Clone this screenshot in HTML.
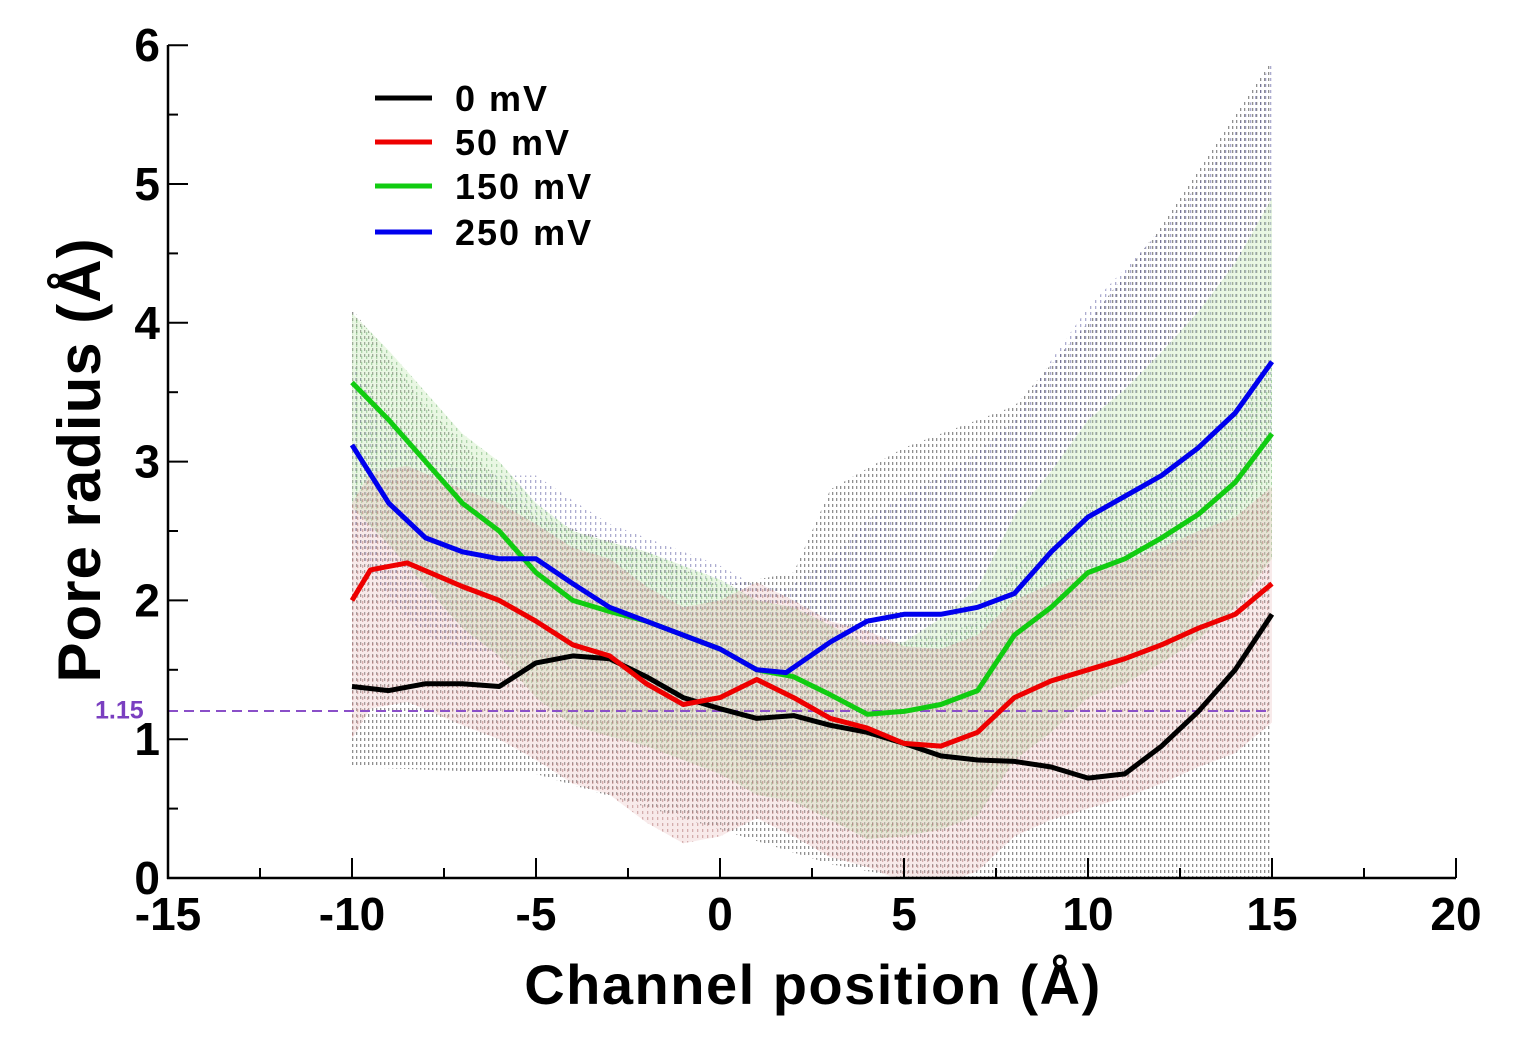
<!DOCTYPE html>
<html><head><meta charset="utf-8"><style>
html,body{margin:0;padding:0;background:#fff;}
svg{display:block;font-family:"Liberation Sans",Arial,sans-serif;}
</style></head><body>
<svg id="s" width="1516" height="1052" viewBox="0 0 1516 1052" xmlns="http://www.w3.org/2000/svg">
<defs>
<pattern id="pg" width="4" height="6" patternUnits="userSpaceOnUse"><rect x="0" y="0" width="1.3" height="3" fill="#444"/></pattern>
<pattern id="pb" width="5" height="6" patternUnits="userSpaceOnUse"><rect x="0" y="0" width="1.3" height="3" fill="#5a5aa0"/></pattern>
<pattern id="pr" width="5" height="6" patternUnits="userSpaceOnUse"><rect x="2" y="1" width="1.3" height="3" fill="#b07070"/></pattern>
<pattern id="pgr" width="5" height="6" patternUnits="userSpaceOnUse"><rect x="1" y="2" width="1.3" height="3" fill="#70b070"/></pattern>
</defs>
<g id="bands"></g>
<line x1="168" y1="711" x2="1272" y2="711" stroke="#8a4fc8" stroke-width="2" stroke-dasharray="10,6"/>
<text x="95" y="712" font-size="25" font-weight="bold" fill="#7a3fc0" dominant-baseline="middle">1.15</text>
<g id="curves"></g>
<g stroke="#000" stroke-width="2.5" fill="none">
<line x1="168" y1="45" x2="168" y2="879"/>
<line x1="167" y1="878" x2="1456" y2="878"/>
</g>
<g id="ticks" stroke="#000" stroke-width="2"></g>
<g font-size="46" font-weight="bold" fill="#000" id="labels"></g>
<g stroke-width="5" fill="none">
<line x1="375" y1="98" x2="432" y2="98" stroke="#000"/>
<line x1="375" y1="142" x2="432" y2="142" stroke="#e00"/>
<line x1="375" y1="186" x2="432" y2="186" stroke="#1c1"/>
<line x1="375" y1="232" x2="432" y2="232" stroke="#00e"/>
</g>
<g font-size="36" font-weight="bold" fill="#000" letter-spacing="2">
<text x="455" y="111">0 mV</text>
<text x="455" y="155">50 mV</text>
<text x="455" y="199">150 mV</text>
<text x="455" y="245">250 mV</text>
</g>
<text x="813" y="1004" font-size="56" font-weight="bold" text-anchor="middle" letter-spacing="1.5">Channel position (Å)</text>
<text transform="translate(100,460) rotate(-90)" font-size="60" font-weight="bold" text-anchor="middle" letter-spacing="1">Pore radius (Å)</text>
</svg>
<script>
const X=x=>720+x*36.8, Y=y=>878-y*138.8;
const ns="http://www.w3.org/2000/svg";
function el(p,t,a){const e=document.createElementNS(ns,t);for(const k in a)e.setAttribute(k,a[k]);document.getElementById(p).appendChild(e);return e;}
function interp(d,x){for(let i=0;i<d.length-1;i++){if(x>=d[i][0]&&x<=d[i+1][0]){const t=(x-d[i][0])/(d[i+1][0]-d[i][0]);return d[i][1]+t*(d[i+1][1]-d[i][1]);}}return d[d.length-1][1];}
function path(d){return d.map((p,i)=>(i?'L':'M')+X(p[0]).toFixed(1)+','+Y(p[1]).toFixed(1)).join('');}
function band(up,lo,fill,op){let pts=[];for(let x=-10;x<=15.001;x+=0.25)pts.push([x,interp(up,x)]);for(let x=15;x>=-10.001;x-=0.25)pts.push([x,Math.max(0,interp(lo,x))]);el('bands','path',{d:path(pts)+'Z',fill:fill,opacity:op});}
const black=[[-10,1.38],[-9,1.35],[-8,1.4],[-7,1.4],[-6,1.38],[-5,1.55],[-4,1.6],[-3,1.58],[-2,1.45],[-1,1.3],[0,1.22],[1,1.15],[2,1.17],[3,1.1],[4,1.05],[5,0.97],[6,0.88],[7,0.85],[8,0.84],[9,0.8],[10,0.72],[11,0.75],[12,0.95],[13,1.2],[14,1.5],[15,1.9]];
const red=[[-10,2.0],[-9.5,2.22],[-8.5,2.27],[-7,2.1],[-6,2.0],[-5,1.85],[-4,1.68],[-3,1.6],[-2,1.4],[-1,1.25],[0,1.3],[1,1.43],[2,1.3],[3,1.15],[4,1.08],[5,0.97],[6,0.95],[7,1.05],[8,1.3],[9,1.42],[10,1.5],[11,1.58],[12,1.68],[13,1.8],[14,1.9],[15,2.12]];
const green=[[-10,3.57],[-9,3.3],[-8,3.0],[-7,2.7],[-6,2.5],[-5,2.2],[-4,2.0],[-3,1.92],[-2,1.85],[-1,1.75],[0,1.65],[1,1.5],[2,1.45],[3,1.32],[4,1.18],[5,1.2],[6,1.25],[7,1.35],[8,1.75],[9,1.95],[10,2.2],[11,2.3],[12,2.45],[13,2.62],[14,2.85],[15,3.2]];
const blue=[[-10,3.12],[-9,2.7],[-8,2.45],[-7,2.35],[-6,2.3],[-5,2.3],[-4,2.12],[-3,1.95],[-2,1.85],[-1,1.75],[0,1.65],[1,1.5],[1.8,1.48],[3,1.7],[4,1.85],[5,1.9],[6,1.9],[7,1.95],[8,2.05],[9,2.35],[10,2.6],[11,2.75],[12,2.9],[13,3.1],[14,3.35],[15,3.72]];
const up=[[-10,4.1],[-8,3.4],[-5,2.6],[-2,2.35],[0,2.1],[2,2.2],[3,2.8],[5,3.1],[8,3.4],[10,4.0],[12,4.7],[14,5.5],[15,5.9]];
const lo=[[-10,0.8],[-5,0.75],[0,0.35],[3,0.1],[5,0],[15,0]];
band(up,lo,'url(#pg)',0.6);
band(blue.map(p=>[p[0],p[1]+0.6+Math.max(0,p[0]-3)*0.13]),blue.map(p=>[p[0],p[1]-0.7]),'url(#pb)',0.5);
band(green.map(p=>[p[0],p[1]+0.5+Math.max(0,p[0]-5)*0.12]),green.map(p=>[p[0],p[1]-0.9]),'#bfe8b0',0.35);
band(green.map(p=>[p[0],p[1]+0.5]),green.map(p=>[p[0],p[1]-0.9]),'url(#pgr)',0.5);
band(red.map(p=>[p[0],p[1]+0.7]),red.map(p=>[p[0],p[1]-1.0]),'#e8b8b8',0.3);
band(red.map(p=>[p[0],p[1]+0.7]),red.map(p=>[p[0],p[1]-1.0]),'url(#pr)',0.5);
[[black,'#000'],[red,'#e00'],[green,'#1c1'],[blue,'#00e']].forEach(c=>el('curves','path',{d:path(c[0]),stroke:c[1],'stroke-width':5,fill:'none','stroke-linejoin':'round'}));
for(let v=0;v<=6;v+=0.5){const y=Y(v);el('ticks','line',{x1:168,y1:y,x2:v%1?178:188,y2:y});}
for(let v=-15;v<=20;v+=2.5){const x=X(v);el('ticks','line',{x1:x,y1:878,x2:x,y2:v%5?868:858});}
for(let v=0;v<=6;v++){const t=el('labels','text',{x:160,y:Y(v)+16,'text-anchor':'end'});t.textContent=v;}
for(let v=-15;v<=20;v+=5){const t=el('labels','text',{x:X(v),y:930,'text-anchor':'middle'});t.textContent=v;}
</script>
</body></html>
